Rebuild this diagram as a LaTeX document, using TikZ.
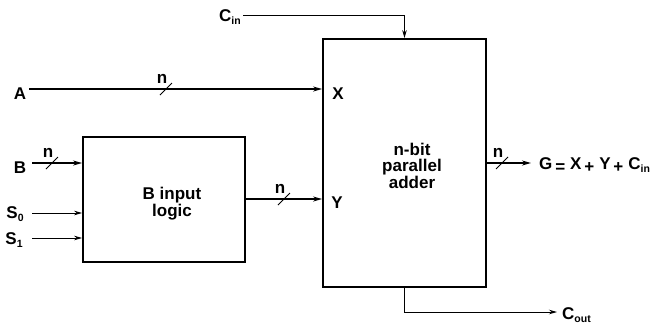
\documentclass[tikz,border=0pt]{standalone}
\usepackage{fontspec}
\setmainfont{Liberation Sans}
\usetikzlibrary{arrows.meta}

\newcommand{\sub}[1]{\raisebox{-0.35ex}{\fontsize{10.5}{10.5}\selectfont #1}}
\newcommand{\low}[1]{\raisebox{-0.4ex}{#1}}

\begin{document}
\begin{tikzpicture}[
    x=1pt, y=-1pt,
    block/.style={rectangle, draw, line width=1.8pt, inner sep=0pt},
    txt/.style={inner sep=0pt, font=\fontsize{17}{15.5}\selectfont\bfseries, align=center},
    bus/.style={line width=1.6pt, -{Stealth[length=9pt,width=5pt]}},
    ctrl/.style={line width=0.9pt, -{Stealth[length=8pt,width=4.5pt]}},
    pics/busmark/.style={code={
        \draw[line width=0.8pt] (-6,6) -- (6,-6);
        \node[txt] at (-4,-10) {n};
    }}
]
\useasboundingbox (0,0) rectangle (655,325);

% blocks
\node[block, minimum width=163pt, minimum height=248pt] (adder) at (404.5,163) {};
\node[txt] at (412,166) {n-bit\\parallel\\adder};
\node[block, minimum width=162pt, minimum height=125pt] (blogic) at (164,199.5) {};
\node[txt] at (172,204) {B input\\logic};

% port labels
\node[txt] (xlab) at (338,94) {X};
\node[txt] (ylab) at (337,203) {Y};

% inputs
\node[txt] (alab) at (20,94) {A};
\coordinate (a0) at (29,89);
\draw[bus] (a0) -- (adder.west |- a0);
\pic at (166,89) {busmark};

\node[txt] (blab) at (20,168) {B};
\coordinate (b0) at (32,163);
\draw[bus] (b0) -- (blogic.west |- b0);
\pic at (52,163) {busmark};

\node[txt] (s0lab) at (15,214) {S\sub{0}};
\coordinate (s00) at (32,213);
\draw[ctrl] (s00) -- (blogic.west |- s00);

\node[txt] (s1lab) at (14,240) {S\sub{1}};
\coordinate (s10) at (32,238);
\draw[ctrl] (s10) -- (blogic.west |- s10);

% B logic to adder
\coordinate (bout) at (blogic.east |- 0,199);
\draw[bus] (bout) -- (adder.west |- bout);
\pic at (284,199) {busmark};

% carry in
\node[txt, anchor=east] (cinlab) at (241,17) {C\sub{in}};
\coordinate (cin0) at (243,15);
\draw[ctrl] (cin0) -| (adder.north);

% output
\coordinate (gout) at (adder.east |- 0,163);
\coordinate (gend) at (531,163);
\draw[bus] (gout) -- (gend);
\pic at (502,163) {busmark};
\node[txt, anchor=west] (glab) at (539,165) {G\,\low{=}\hspace{5pt}X\,\low{+}\hspace{5pt}Y\,\low{+}\hspace{5pt}C\sub{in}};

% carry out
\coordinate (cend) at (557,312);
\draw[ctrl] (adder.south) |- (cend);
\node[txt, anchor=west] (coutlab) at (562,315) {C\sub{out}};

\end{tikzpicture}
\end{document}
